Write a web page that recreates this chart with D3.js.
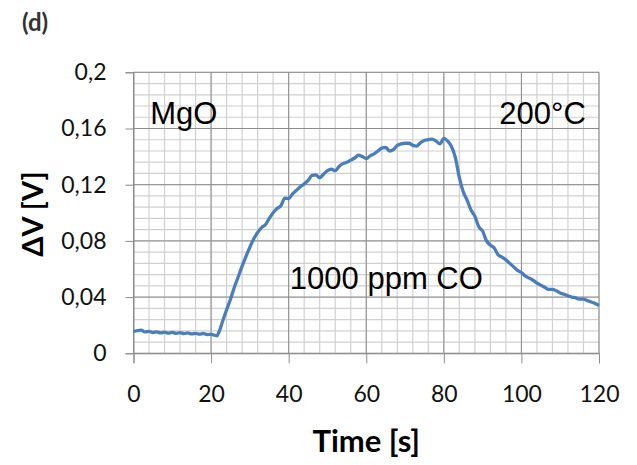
<!DOCTYPE html>
<html>
<head>
<meta charset="utf-8">
<script src="https://cdn.jsdelivr.net/npm/d3@7"></script>
<style>
  body { margin: 0; background: #fff; }
  svg { display: block; }
</style>
</head>
<body>
<div id="viz"></div>
<script>
// response curve, MgO at 200°C, 1000 ppm CO
const time = [0,1,2,3,4,5,6,7,8,9,10,11,12,13,14,15,16,17,18,19,20,21,21.5,22,23,24,25,26,27,28,29,
  30,31,32,33,34,35,36,37,38,39,40,41,42,43,44,45,46,47,48,49,50,51,52,53,54,55,56,57,58,59,
  60,61,62,63,64,65,66,67,68,69,70,71,72,73,74,75,76,77,78,79,80,81,82,83,84,85,86,87,88,89,
  90,91,92,93,94,95,96,97,98,99,100,101,102,103,104,105,106,107,108,109,110,111,112,113,114,
  115,116,117,118,119,120];
const deltaV = [0.0155,0.0162,0.0165,0.0152,0.0156,0.0148,0.0153,0.0145,0.0150,0.0143,0.0149,
  0.0142,0.0147,0.0140,0.0145,0.0138,0.0142,0.0136,0.0141,0.0133,0.0135,0.0128,0.0124,0.0150,
  0.0230,0.0310,0.0385,0.0470,0.0545,0.0620,0.0690,0.0755,0.0815,0.0860,0.0895,0.0915,0.0960,
  0.1000,0.1030,0.1050,0.1105,0.1100,0.1135,0.1160,0.1185,0.1205,0.1230,0.1265,0.1270,0.1250,
  0.1275,0.1300,0.1310,0.1300,0.1330,0.1350,0.1360,0.1375,0.1390,0.1410,0.1400,0.1385,0.1405,
  0.1420,0.1440,0.1460,0.1465,0.1440,0.1450,0.1480,0.1490,0.1495,0.1495,0.1480,0.1475,0.1500,
  0.1515,0.1520,0.1525,0.1510,0.1490,0.1530,0.1510,0.1470,0.1390,0.1250,0.1150,0.1090,0.1020,
  0.0975,0.0900,0.0870,0.0800,0.0770,0.0750,0.0700,0.0685,0.0665,0.0640,0.0615,0.0590,0.0575,
  0.0550,0.0535,0.0520,0.0500,0.0485,0.0470,0.0455,0.0455,0.0445,0.0430,0.0420,0.0410,0.0400,
  0.0395,0.0385,0.0385,0.0375,0.0365,0.0355,0.0340];

const xTicks = [0, 20, 40, 60, 80, 100, 120];
const xTickLabels = ["0", "20", "40", "60", "80", "100", "120"];
const yTicks = [0, 0.04, 0.08, 0.12, 0.16, 0.2];
const yTickLabels = ["0", "0,04", "0,08", "0,12", "0,16", "0,2"];

const W = 637, H = 465;
const margin = { top: 72.3, right: 38, bottom: 111.7, left: 133.5 };
const width = W - margin.left - margin.right;
const height = H - margin.top - margin.bottom;

const root = d3.select("#viz").append("svg")
  .attr("width", W)
  .attr("height", H);

const svg = root.append("g")
  .attr("transform", `translate(${margin.left},${margin.top})`);

const x = d3.scaleLinear().domain([0, 120]).range([0, width]);
const y = d3.scaleLinear().domain([0, 0.2]).range([height, 0]);

// minor grid
svg.append("g")
  .selectAll("line.vminor")
  .data(d3.range(0, 121, 4))
  .enter().append("line")
  .attr("x1", d => x(d)).attr("x2", d => x(d))
  .attr("y1", 0).attr("y2", height)
  .attr("stroke", "#d0d0d0").attr("stroke-width", 1.2);

svg.append("g")
  .selectAll("line.hminor")
  .data(d3.range(0, 26).map(i => i * 0.008))
  .enter().append("line")
  .attr("x1", 0).attr("x2", width)
  .attr("y1", d => y(d)).attr("y2", d => y(d))
  .attr("stroke", "#d0d0d0").attr("stroke-width", 1.2);

// major grid
svg.append("g")
  .selectAll("line")
  .data(xTicks)
  .enter().append("line")
  .attr("x1", d => x(d)).attr("x2", d => x(d))
  .attr("y1", 0).attr("y2", height)
  .attr("stroke", "#8c8c8c").attr("stroke-width", 1);

svg.append("g")
  .selectAll("line")
  .data(yTicks)
  .enter().append("line")
  .attr("x1", 0).attr("x2", width)
  .attr("y1", d => y(d)).attr("y2", d => y(d))
  .attr("stroke", "#8c8c8c").attr("stroke-width", 1);

// axes
const yAxis = svg.append("g")
  .call(d3.axisLeft(y).tickValues(yTicks).tickSize(8).tickPadding(19)
    .tickFormat((d, i) => yTickLabels[i]));

const xAxis = svg.append("g")
  .attr("transform", `translate(0,${height})`)
  .call(d3.axisBottom(x).tickValues(xTicks).tickSize(10).tickPadding(22)
    .tickFormat((d, i) => xTickLabels[i]));

[yAxis, xAxis].forEach(a => {
  a.select(".domain").attr("stroke", "#8c8c8c");
  a.selectAll(".tick line").attr("stroke", "#8c8c8c");
  a.selectAll("text")
    .style("font-family", "Lato, 'Open Sans', sans-serif")
    .style("font-size", "23px")
    .attr("fill", "#111");
});

// curve
const line = d3.line()
  .x((d, i) => x(time[i]))
  .y(d => y(d))
  .curve(d3.curveMonotoneX);

svg.append("path")
  .datum(deltaV)
  .attr("fill", "none")
  .attr("stroke", "#4a7ebb")
  .attr("stroke-width", 3.3)
  .attr("stroke-linejoin", "round")
  .attr("d", line);

// annotations
const ann = svg.append("g")
  .style("font-family", "'Liberation Sans', Arial, sans-serif")
  .style("font-size", "31px")
  .attr("fill", "#000");

ann.append("text").attr("x", x(4.3)).attr("y", y(0.163)).text("MgO");
ann.append("text").attr("x", x(116.6)).attr("y", y(0.163))
  .attr("text-anchor", "end").text("200°C");
ann.append("text").attr("x", x(40.3)).attr("y", y(0.0456)).text("1000 ppm CO");

// axis titles
root.append("text")
  .attr("x", margin.left + width / 2)
  .attr("y", 452)
  .attr("text-anchor", "middle")
  .style("font-family", "Lato, 'Open Sans', sans-serif")
  .style("font-weight", "bold")
  .style("font-size", "31px")
  .text("Time [s]");

root.append("text")
  .attr("transform", "translate(43,214) rotate(-90)")
  .attr("text-anchor", "middle")
  .style("font-family", "Lato, 'Open Sans', sans-serif")
  .style("font-weight", "bold")
  .style("font-size", "29px")
  .text("ΔV [V]");

root.append("text")
  .attr("x", 22)
  .attr("y", 31)
  .style("font-family", "Lato, 'Open Sans', sans-serif")
  .style("font-weight", "bold")
  .style("font-size", "24px")
  .attr("fill", "#333")
  .text("(d)");
</script>
</body>
</html>
